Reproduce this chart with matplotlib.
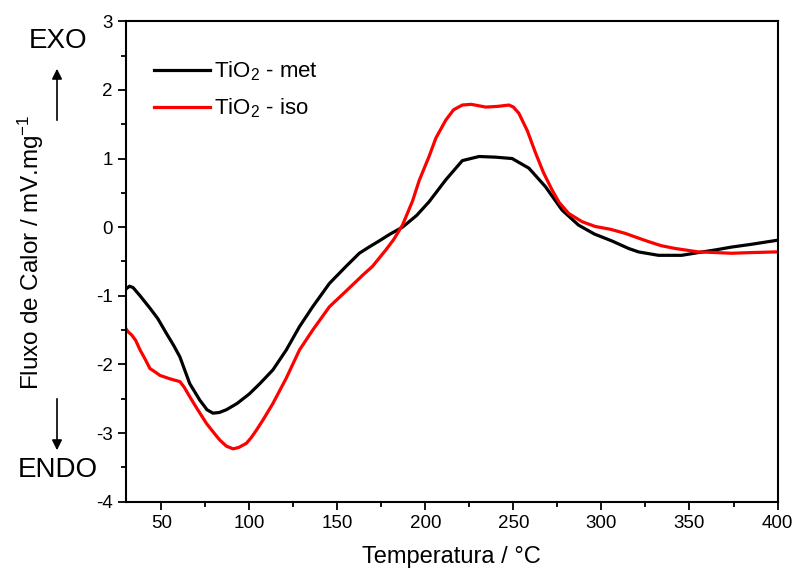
import matplotlib
matplotlib.use("Agg")
import matplotlib.pyplot as plt
from matplotlib.ticker import MultipleLocator

plt.rcParams['font.family'] = ['Liberation Sans', 'DejaVu Sans']
plt.rcParams['mathtext.fontset'] = 'custom'
plt.rcParams['mathtext.rm'] = 'Liberation Sans'
plt.rcParams['mathtext.it'] = 'Liberation Sans'
plt.rcParams['axes.unicode_minus'] = False

# TiO2 - met (black)
met_x = [30, 32, 34, 38, 43.6, 48, 53, 57, 60.6, 66.2, 71.9, 76, 79.4, 83, 87, 93,
         100, 106, 113.4, 121, 128.5, 136, 145.5, 155, 162.5, 168, 173.8, 180, 187,
         195, 202.1, 211.6, 221, 230.5, 240, 249.3, 258.8, 268.2, 277.6, 287, 296,
         305.9, 315.4, 321, 332.4, 345.6, 355, 365, 373.9, 385, 400]
met_y = [-0.90, -0.86, -0.88, -1.00, -1.18, -1.33, -1.55, -1.72, -1.89, -2.28, -2.52,
         -2.66, -2.71, -2.70, -2.66, -2.57, -2.43, -2.28, -2.08, -1.79, -1.45, -1.16,
         -0.82, -0.57, -0.38, -0.29, -0.20, -0.10, 0.00, 0.17, 0.37, 0.69, 0.97, 1.03,
         1.02, 1.00, 0.86, 0.59, 0.25, 0.03, -0.10, -0.20, -0.31, -0.36, -0.41, -0.41,
         -0.37, -0.33, -0.29, -0.25, -0.19]

# TiO2 - iso (red)
iso_x = [30, 31, 33.2, 35.5, 38, 41, 43.6, 46, 49.3, 55, 60.6, 63, 66.2, 70, 75.7, 80,
         83.2, 87, 90.8, 94, 98.3, 101, 104, 108, 113.4, 121, 128.5, 136, 145.5, 155,
         164.4, 170, 177.6, 182, 187, 192.7, 196.5, 202.1, 206, 211.6, 216, 221, 226,
         234.3, 241, 247.5, 250, 253.1, 258, 262.6, 267, 272, 276, 281.4, 289, 296.5,
         305, 313.5, 320, 326.7, 334, 341.8, 355, 365, 373.9, 385, 400]
iso_y = [-1.48, -1.52, -1.57, -1.65, -1.79, -1.93, -2.06, -2.10, -2.16, -2.21, -2.25,
         -2.33, -2.47, -2.63, -2.86, -3.00, -3.10, -3.19, -3.23, -3.21, -3.15, -3.07,
         -2.96, -2.80, -2.57, -2.20, -1.79, -1.50, -1.16, -0.93, -0.70, -0.57, -0.33,
         -0.18, 0.03, 0.38, 0.68, 1.03, 1.30, 1.56, 1.71, 1.78, 1.79, 1.75, 1.76, 1.78,
         1.75, 1.66, 1.40, 1.08, 0.80, 0.54, 0.36, 0.20, 0.08, 0.01, -0.03, -0.09,
         -0.15, -0.21, -0.27, -0.31, -0.36, -0.37, -0.38, -0.37, -0.36]

labels = ['TiO$_2$ - met', 'TiO$_2$ - iso']
x_ticks = [50, 100, 150, 200, 250, 300, 350, 400]
y_ticks = [-4, -3, -2, -1, 0, 1, 2, 3]

fig = plt.figure(figsize=(7.96, 5.77), dpi=100)
ax = fig.add_axes([0.1583, 0.1305, 0.8185, 0.8326])

ax.plot(met_x, met_y, color='black', lw=2.3, label=labels[0])
ax.plot(iso_x, iso_y, color='#ff0000', lw=2.3, label=labels[1])

ax.set_xlim(30, 400)
ax.set_ylim(-4, 3)
ax.set_xticks(x_ticks)
ax.set_yticks(y_ticks)
ax.xaxis.set_minor_locator(MultipleLocator(25))
ax.yaxis.set_minor_locator(MultipleLocator(0.5))
ax.tick_params(which='major', direction='out', length=6, width=1.3, labelsize=13.5,
               top=False, right=False)
ax.tick_params(which='minor', direction='out', length=3.5, width=1.3,
               top=False, right=False)
for s in ax.spines.values():
    s.set_linewidth(1.5)

ax.set_xlabel('Temperatura / °C', fontsize=17, labelpad=10)
ax.set_ylabel('Fluxo de Calor / mV.mg$^{-1}$', fontsize=17.5)
ax.yaxis.set_label_coords(-(126 - 46) / 651.5, (501.7 - 252) / 480.4)

leg = ax.legend(loc='upper left', bbox_to_anchor=(0.013, 0.962), frameon=False,
                fontsize=16, handlelength=2.5, handletextpad=0.2, labelspacing=0.6)

# EXO / ENDO annotations
fig.text(58 / 796, 1 - 41 / 577, 'EXO', fontsize=20, ha='center', va='center')
fig.text(58 / 796, 1 - 470 / 577, 'ENDO', fontsize=20, ha='center', va='center')
fig.patches.append(matplotlib.patches.FancyArrowPatch(
    (57 / 796, 1 - 123 / 577), (57 / 796, 1 - 66 / 577), transform=fig.transFigure,
    arrowstyle='-|>,head_length=4,head_width=2', mutation_scale=1.5, color='black', lw=1.2))
fig.patches.append(matplotlib.patches.FancyArrowPatch(
    (57 / 796, 1 - 396 / 577), (57 / 796, 1 - 453 / 577), transform=fig.transFigure,
    arrowstyle='-|>,head_length=4,head_width=2', mutation_scale=1.5, color='black', lw=1.2))

fig.savefig('out.png', dpi=100)
